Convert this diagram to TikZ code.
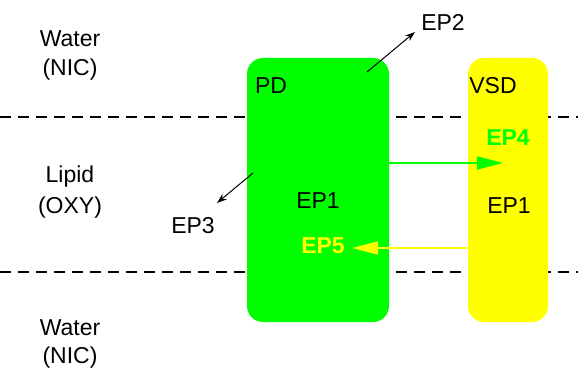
\documentclass[tikz,border=0pt]{standalone}
\usepackage{fontspec}
\setmainfont{Liberation Sans}
\usetikzlibrary{arrows.meta}
\definecolor{pdgreen}{HTML}{00FF00}
\definecolor{vsdyellow}{HTML}{FFFF00}
\begin{document}
\begin{tikzpicture}[x=1pt,y=-1pt,
  lbl/.style={font=\fontsize{23}{27}\selectfont, inner sep=0pt},
  boldlbl/.style={font=\fontsize{23}{27}\selectfont\bfseries, inner sep=0pt},
  protbox/.style={draw=none, rounded corners=16pt, inner sep=0pt},
  membrane/.style={dash pattern=on 11pt off 7pt, line width=2pt},
  thinarrow/.style={-{Stealth[length=10pt,width=7pt]}, line width=1pt},
  bigarrow/.style={-{Triangle[length=26pt,width=13pt]}, line width=2.2pt}]
\useasboundingbox (0,0) rectangle (578,369);
% membrane boundaries
\coordinate (m1l) at (0,117); \coordinate (m1r) at (578,117);
\coordinate (m2l) at (0,272); \coordinate (m2r) at (578,272);
\draw[membrane] (m1l) -- (m1r);
\draw[membrane] (m2l) -- (m2r);
% domains
\node[protbox, fill=pdgreen, minimum width=142pt, minimum height=264pt] (pd) at (318,190) {};
\node[protbox, fill=vsdyellow, minimum width=80pt, minimum height=264pt] (vsd) at (508,190) {};
% side labels
\node[lbl] (w1) at (70,39) {Water};
\node[lbl] (n1) at (70,70) {(NIC)};
\node[lbl] (l1) at (70,177) {Lipid};
\node[lbl] (o1) at (70,208) {(OXY)};
\node[lbl] (w2) at (70,328) {Water};
\node[lbl] (n2) at (70,358) {(NIC)};
% domain labels
\node[lbl] (pdl) at (271,86) {PD};
\node[lbl] (vsdl) at (493,86) {VSD};
\node[lbl] (ep1a) at (318,201) {EP1};
\node[lbl] (ep1b) at (509,206) {EP1};
\node[boldlbl, text=pdgreen] (ep4) at (508,138) {EP4};
\node[boldlbl, text=vsdyellow] (ep5) at (323,246) {EP5};
\node[lbl] (ep2) at (443,22) {EP2};
\node[lbl] (ep3) at (193,226) {EP3};
% thin arrows
\coordinate (a2s) at (367,72); \coordinate (a2e) at (415,32);
\coordinate (a3s) at (253,173); \coordinate (a3e) at (217,203);
\draw[thinarrow] (a2s) -- (a2e);
\draw[thinarrow] (a3s) -- (a3e);
% coupling arrows
\coordinate (g1) at (389,163); \coordinate (g2) at (503,163);
\coordinate (y1) at (468,248); \coordinate (y2) at (352,248);
\draw[bigarrow, draw=pdgreen, fill=pdgreen] (g1) -- (g2);
\draw[bigarrow, draw=vsdyellow, fill=vsdyellow] (y1) -- (y2);
\end{tikzpicture}
\end{document}
